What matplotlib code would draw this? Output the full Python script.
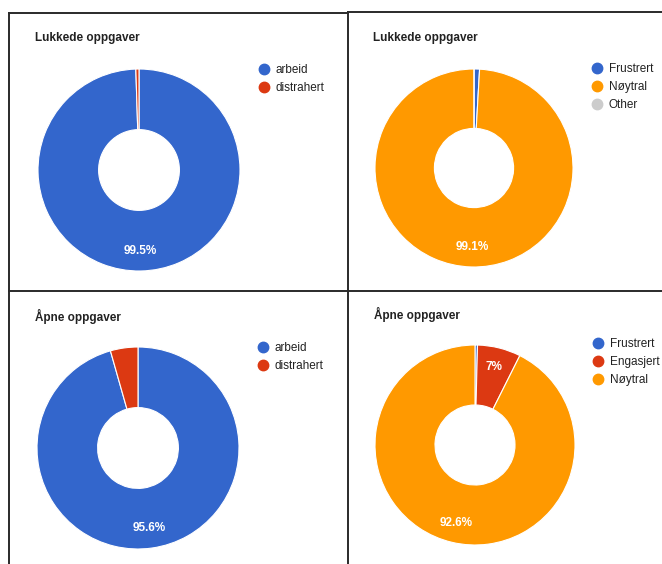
import matplotlib.pyplot as plt
from matplotlib.lines import Line2D

plt.rcParams['font.family'] = ['Liberation Sans', 'DejaVu Sans']

W, H = 662, 564

BLUE = '#3366cc'
RED = '#dc3912'
ORANGE = '#ff9900'
GREY = '#cccccc'

# lukkede oppgaver - arbeid / distrahert
lukket_arbeid_labels = ['arbeid', 'distrahert']
lukket_arbeid_values = [99.5, 0.5]
lukket_arbeid_colors = [BLUE, RED]

# lukkede oppgaver - følelser
lukket_folelse_labels = ['Frustrert', 'Nøytral', 'Other']
lukket_folelse_values = [0.9, 99.1, 0.0]
lukket_folelse_colors = [BLUE, ORANGE, GREY]

# åpne oppgaver - arbeid / distrahert
apen_arbeid_labels = ['arbeid', 'distrahert']
apen_arbeid_values = [95.6, 4.4]
apen_arbeid_colors = [BLUE, RED]

# åpne oppgaver - følelser
apen_folelse_labels = ['Frustrert', 'Engasjert', 'Nøytral']
apen_folelse_values = [0.4, 7.0, 92.6]
apen_folelse_colors = [BLUE, RED, ORANGE]


def fmt_pct(p):
    # google-stil: bare store stykker får etikett, uten ",0"
    if p < 5:
        return ''
    return ('%.1f' % p).rstrip('0').rstrip('.') + '%'


fig = plt.figure(figsize=(W / 100, H / 100), dpi=100)

panels = [
    # tittel, etiketter, verdier, farger, (senter x, y, radius), tittel xy, legende xy
    ('Lukkede oppgaver', lukket_arbeid_labels, lukket_arbeid_values, lukket_arbeid_colors,
     (139, 170, 101), (35, 38), (264, 69)),
    ('Lukkede oppgaver', lukket_folelse_labels, lukket_folelse_values, lukket_folelse_colors,
     (474, 168, 99), (373, 38), (597, 68)),
    ('Åpne oppgaver', apen_arbeid_labels, apen_arbeid_values, apen_arbeid_colors,
     (138, 448, 101), (35, 316), (263, 347)),
    ('Åpne oppgaver', apen_folelse_labels, apen_folelse_values, apen_folelse_colors,
     (475, 445, 100), (374, 314), (598, 343)),
]

for title, labels, values, colors, (cx, cy, r), (tx, ty), (lx, ly) in panels:
    ax = fig.add_axes([(cx - r) / W, 1 - (cy + r) / H, 2 * r / W, 2 * r / H])
    ax.pie(values, colors=colors, startangle=90, counterclock=False, radius=1,
           wedgeprops=dict(width=0.6, edgecolor='white', linewidth=0.8),
           autopct=fmt_pct, pctdistance=0.8,
           textprops=dict(color='white', fontsize=8.5, fontweight='semibold'))
    ax.set_xlim(-1.0, 1.0)
    ax.set_ylim(-1.0, 1.0)
    ax.axis('off')

    fig.text(tx / W, 1 - ty / H, title, fontsize=8.5, fontweight='bold',
             color='#222222', ha='left', va='center')

    handles = [Line2D([], [], linestyle='none', marker='o', markersize=7.5,
                      markerfacecolor=c, markeredgecolor=c) for c in colors]
    fig.legend(handles, labels, loc='upper left',
               bbox_to_anchor=((lx - 4.7) / W, 1 - (ly - 5) / H),
               frameon=False, fontsize=8.5, labelcolor='#222222',
               borderpad=0, borderaxespad=0, handlelength=0.8,
               handletextpad=0.6, labelspacing=0.52)

# rammer rundt panelene
border = dict(color='#2a2a2a', linewidth=1.4, transform=fig.transFigure)
fig.add_artist(Line2D([8.5 / W, 348 / W], [1 - 13 / H, 1 - 13 / H], **border))
fig.add_artist(Line2D([348 / W, 1], [1 - 12 / H, 1 - 12 / H], **border))
fig.add_artist(Line2D([8.5 / W, 8.5 / W], [1 - 13 / H, 0], **border))
fig.add_artist(Line2D([348 / W, 348 / W], [1 - 12 / H, 0], **border))
fig.add_artist(Line2D([8.5 / W, 1], [1 - 291 / H, 1 - 291 / H], **border))

fig.savefig('out.png', dpi=100)
